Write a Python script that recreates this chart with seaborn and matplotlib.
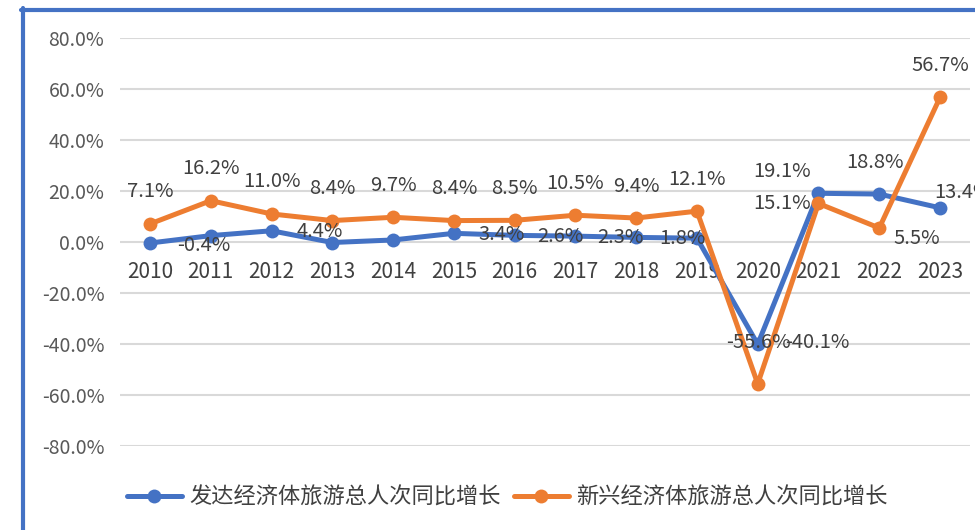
"""Year-on-year growth of total tourist trips, developed vs emerging economies."""

import matplotlib

matplotlib.use("Agg")
import matplotlib.pyplot as plt
import pandas as pd
import seaborn as sns
from matplotlib.lines import Line2D

YEARS = list(range(2010, 2024))
DEVELOPED = [-0.4, 2.5, 4.4, -0.2, 0.8, 3.4, 2.6, 2.3, 1.8, 1.5, -40.1, 19.1, 18.8, 13.4]
EMERGING = [7.1, 16.2, 11.0, 8.4, 9.7, 8.4, 8.5, 10.5, 9.4, 12.1, -55.6, 15.1, 5.5, 56.7]
DEVELOPED_NAME = "发达经济体旅游总人次同比增长"
EMERGING_NAME = "新兴经济体旅游总人次同比增长"
Y_TICKS = [-80, -60, -40, -20, 0, 20, 40, 60, 80]

BLUE = "#4472C4"
ORANGE = "#ED7D31"
GRID = "#D9D9D9"
TICK_TEXT = "#595959"
LABEL_TEXT = "#404040"

# which points carry a data label, and where it sits (dx, dy in pixels, ha)
DEVELOPED_LABELS = {
    2010: (27, -2, "left"), 2012: (25, -1, "left"), 2015: (25, -1, "left"),
    2016: (23, -1, "left"), 2017: (22, -1, "left"), 2018: (23, -1, "left"),
    2020: (27, 2, "left"), 2021: (-8, 22, "right"), 2022: (-4, 32, "center"),
    2023: (-6, 15, "left"),
}
EMERGING_LABELS = {year: (0, 32, "center") for year in YEARS}
EMERGING_LABELS.update({2020: (1, 41, "center"), 2021: (-8, 0, "right"),
                        2022: (14, -11, "left")})


def main() -> None:
    sns.set_theme(style="white")
    plt.rcParams["font.family"] = ["Noto Sans CJK SC", "DejaVu Sans"]

    data = pd.DataFrame(
        {
            "year": YEARS * 2,
            "value": DEVELOPED + EMERGING,
            "series": [DEVELOPED_NAME] * len(YEARS) + [EMERGING_NAME] * len(YEARS),
        }
    )

    fig = plt.figure(figsize=(9.75, 5.3), dpi=100)
    ax = fig.add_axes([0.1227, 0.1585, 0.8726, 0.7698])
    sns.lineplot(
        data=data,
        x="year",
        y="value",
        hue="series",
        palette={DEVELOPED_NAME: BLUE, EMERGING_NAME: ORANGE},
        marker="o",
        markersize=10,
        markeredgewidth=0,
        linewidth=3.6,
        ax=ax,
    )

    ax.set_xlim(2009.5, 2023.5)
    ax.set_ylim(-80, 80)
    ax.set_yticks(Y_TICKS)
    ax.set_yticklabels([f"{v:.1f}%" for v in Y_TICKS])
    ax.set_xticks(YEARS)
    ax.set_xticklabels([str(y) for y in YEARS])
    ax.set(xlabel="", ylabel="")
    ax.grid(axis="y", color=GRID, linewidth=1.5)
    ax.set_axisbelow(True)
    for side in ["top", "right", "left"]:
        ax.spines[side].set_visible(False)
    ax.spines["bottom"].set_position(("data", 0))
    ax.spines["bottom"].set_visible(False)
    ax.tick_params(axis="y", length=0, pad=11, labelsize=14, labelcolor=TICK_TEXT)
    ax.tick_params(axis="x", length=0, pad=14, labelsize=15, labelcolor=LABEL_TEXT)

    for values, labels in [(DEVELOPED, DEVELOPED_LABELS), (EMERGING, EMERGING_LABELS)]:
        for year, value in zip(YEARS, values):
            if year not in labels:
                continue
            dx, dy, ha = labels[year]
            ax.annotate(
                f"{value:.1f}%",
                (year, value),
                xytext=(dx * 0.72, dy * 0.72),
                textcoords="offset points",
                ha=ha,
                va="center",
                fontsize=14.5,
                color=LABEL_TEXT,
            )

    sns.move_legend(
        ax,
        "center",
        bbox_to_anchor=(507 / 975, 1 - 497 / 530),
        bbox_transform=fig.transFigure,
        ncol=2,
        frameon=False,
        title=None,
        fontsize=16,
        handlelength=2.5,
        handletextpad=0.3,
        columnspacing=0.6,
    )
    for text in ax.get_legend().get_texts():
        text.set_color(LABEL_TEXT)

    # frame of the original chart, cut off on the right and bottom
    fig.add_artist(Line2D([21 / 975, 1], [1 - 10 / 530] * 2, color=BLUE, linewidth=3,
                          transform=fig.transFigure))
    fig.add_artist(Line2D([23 / 975] * 2, [0, 1 - 8 / 530], color=BLUE, linewidth=3,
                          transform=fig.transFigure))

    fig.savefig("out.png", dpi=100)
    plt.close(fig)


if __name__ == "__main__":
    main()
